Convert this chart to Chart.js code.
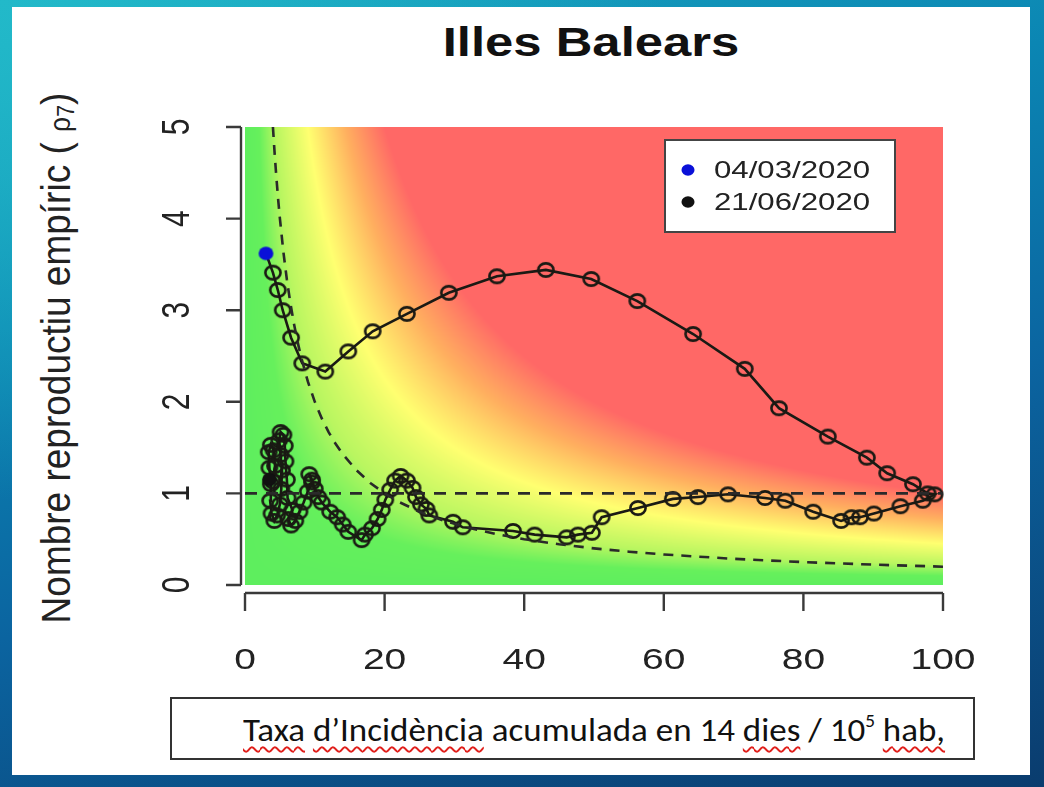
<!DOCTYPE html>
<html lang="ca">
<head>
<meta charset="utf-8">
<title>Illes Balears</title>
<script src="https://cdn.jsdelivr.net/npm/chart.js@4.4.1/dist/chart.umd.min.js"></script>
<style>
  html, body { margin: 0; padding: 0; }
  body {
    width: 1044px; height: 787px; overflow: hidden; position: relative;
    background:
      radial-gradient(ellipse at 0% 0%, #22b9c9 0%, rgba(34,185,201,0) 45%),
      linear-gradient(165deg, #1aa7c0 0%, #0b86b3 30%, #0b64a0 60%, #0a3c6e 100%);
    font-family: "Liberation Sans", Arial, sans-serif;
  }
  #panel { position: absolute; left: 12px; top: 7px; width: 1018px; height: 768px; background: #fff; }
  #title {
    position: absolute; left: 341px; top: 22px; width: 500px; text-align: center;
    font-size: 40px; line-height: 40px; font-weight: bold; color: #111;
    transform: scaleX(1.27);
  }
  #ytitle {
    position: absolute; left: -243px; top: 339px; width: 600px; height: 38px;
    line-height: 38px; text-align: center; font-size: 37px; color: #222; white-space: nowrap;
    transform: scaleX(1.12) rotate(-90deg);
  }
  #ytitle .sm { font-size: 0.72em; }
  #ytitle sub { font-size: 0.8em; vertical-align: -0.15em; }
  #chart { position: absolute; left: 0; top: 0; }
  #xbox {
    position: absolute; left: 170px; top: 697px; width: 805px; height: 63px;
    box-sizing: border-box; border: 2px solid #333; background: #fff;
  }
  #xtitle {
    position: absolute; left: 71px; top: 12px; white-space: nowrap;
    font-family: Carlito, Calibri, Lato, sans-serif; font-size: 33px; line-height: 38px; color: #111;
    transform-origin: 0 50%;
  }
  #xtitle .sp {
    text-decoration: underline wavy #e0201c; text-decoration-thickness: 1.5px;
    text-underline-offset: 5px; text-decoration-skip-ink: none;
  }
  #xtitle sup { font-size: 0.55em; vertical-align: 0.75em; line-height: 0; }
</style>
</head>
<body>
<div id="panel"></div>
<div id="title">Illes Balears</div>
<div id="ytitle">Nombre reproductiu empíric ( <span class="sm">ρ<sub>7</sub></span>)</div>
<canvas id="chart" width="1044" height="787"></canvas>
<div id="xbox"><div id="xtitle"><span class="sp">Taxa</span> <span class="sp">d’Incidència</span> acumulada en 14 <span class="sp">dies</span> / 10<sup>5</sup> <span class="sp">hab,</span></div></div>

<script>
// ===== Data =====
// incidence over 14 days per 10^5 inhabitants (x) and empirical reproduction number rho7 (y), 04/03 -> 21/06
const incidence = [
  3.0, 4.0, 4.7, 5.4, 6.6, 8.2, 11.5, 14.8, 18.3, 23.2,
  29.2, 36.1, 43.1, 49.6, 56.2, 64.2, 71.6, 76.5, 83.5, 89.1,
  92.0, 95.7, 97.8, 98.8, 97.1, 93.9, 90.1, 88.1, 86.9, 85.4,
  81.4, 77.4, 74.5, 69.2, 64.9, 61.3, 56.3, 51.1, 49.7, 47.7,
  46.1, 41.5, 38.4, 31.2, 29.8, 26.4, 26.0, 25.2, 24.5, 24.0,
  23.2, 22.3, 21.5, 20.8, 20.1, 19.6, 19.0, 18.2, 17.2, 16.7,
  14.8, 14.0, 13.2, 12.2, 11.0, 10.5, 10.0, 9.6, 9.2, 9.6,
  9.0, 8.4, 7.8, 7.2, 6.6, 6.2, 6.8, 6.1, 6.0, 5.8,
  5.7, 5.5, 5.1, 4.9, 5.1, 5.3, 5.2, 5.0, 4.6, 4.2,
  3.8, 3.6, 3.7, 3.5, 3.4, 3.7, 4.1, 4.3, 4.0, 3.5
];
const rho7 = [
  3.62, 3.41, 3.22, 3.00, 2.70, 2.42, 2.33, 2.55, 2.77, 2.96,
  3.19, 3.37, 3.44, 3.34, 3.10, 2.74, 2.36, 1.93, 1.62, 1.39,
  1.22, 1.10, 1.00, 0.99, 0.92, 0.86, 0.78, 0.74, 0.74, 0.70,
  0.80, 0.92, 0.95, 0.99, 0.96, 0.94, 0.84, 0.74, 0.57, 0.55,
  0.52, 0.55, 0.59, 0.63, 0.69, 0.76, 0.83, 0.88, 0.96, 1.06,
  1.14, 1.19, 1.14, 1.04, 0.93, 0.82, 0.72, 0.62, 0.55, 0.49,
  0.58, 0.66, 0.74, 0.80, 0.90, 0.96, 1.05, 1.15, 1.21, 1.12,
  1.02, 0.90, 0.80, 0.70, 0.65, 0.72, 0.82, 0.95, 1.15, 1.35,
  1.52, 1.64, 1.67, 1.58, 1.42, 1.25, 1.05, 0.88, 0.76, 0.70,
  0.78, 0.92, 1.10, 1.28, 1.45, 1.53, 1.47, 1.30, 1.13, 1.15
];

// reference lines: rho = 1 and the iso-risk curve incidence * rho = 20
const unitLineX = [0, 100];
const unitLineY = 1;
const isoRisk = 20;
const isoCurveX = [4, 4.25, 4.5, 4.75, 5, 5.5, 6, 6.5, 7, 7.5, 8, 9, 10, 11, 12, 13, 14, 16, 18, 20,
  22, 25, 28, 32, 36, 40, 45, 50, 55, 60, 70, 80, 90, 100];

const xTicks = [0, 20, 40, 60, 80, 100];
const yTicks = [0, 1, 2, 3, 4, 5];
const legendLabels = ['04/03/2020', '21/06/2020'];
const legendColors = ['#0a10d8', '#111111'];

// risk (incidence * rho) -> background colour
const riskStops = [0, 10, 22, 45, 72, 100];
const riskColors = [
  [94, 238, 94], [102, 240, 92], [185, 246, 96],
  [255, 255, 112], [255, 175, 95], [255, 104, 102]
];

(function() {
  'use strict';

  const STRETCH = 1.3;   // the source picture is widened horizontally
  const INK = '#222';

  // ===== helpers =====
  function riskColor(r) {
    if (r <= riskStops[0]) return riskColors[0];
    for (let i = 1; i < riskStops.length; i++) {
      if (r <= riskStops[i]) {
        const t = (r - riskStops[i - 1]) / (riskStops[i] - riskStops[i - 1]);
        const a = riskColors[i - 1], b = riskColors[i];
        return [a[0] + (b[0] - a[0]) * t, a[1] + (b[1] - a[1]) * t, a[2] + (b[2] - a[2]) * t];
      }
    }
    return riskColors[riskColors.length - 1];
  }

  function makeMarker(fill, stroke, rx, ry, lw) {
    const c = document.createElement('canvas');
    c.width = Math.ceil(rx * 2 + lw + 2);
    c.height = Math.ceil(ry * 2 + lw + 2);
    const g = c.getContext('2d');
    g.beginPath();
    g.ellipse(c.width / 2, c.height / 2, rx, ry, 0, 0, Math.PI * 2);
    if (fill) { g.fillStyle = fill; g.fill(); }
    if (stroke) { g.lineWidth = lw; g.strokeStyle = stroke; g.stroke(); }
    return c;
  }

  const openMarker = makeMarker(null, '#1a1a14', 7.6, 6.6, 2.6);
  const startMarker = makeMarker(legendColors[0], null, 7.4, 6.8, 0);
  const endMarker = makeMarker(legendColors[1], null, 7.4, 6.8, 0);

  // ===== plugins =====
  const riskBackground = {
    id: 'riskBackground',
    beforeDatasetsDraw(chart) {
      const { ctx, chartArea: a, scales: { x, y } } = chart;
      const left = Math.round(a.left), top = Math.round(a.top);
      const w = Math.round(a.right) - left, h = Math.round(a.bottom) - top;
      const img = ctx.createImageData(w, h);
      for (let j = 0; j < h; j++) {
        const vy = y.getValueForPixel(top + j + 0.5);
        for (let i = 0; i < w; i++) {
          const vx = x.getValueForPixel(left + i + 0.5);
          const c = riskColor(Math.max(0, vx * vy));
          const k = (j * w + i) * 4;
          img.data[k] = c[0];
          img.data[k + 1] = c[1];
          img.data[k + 2] = c[2];
          img.data[k + 3] = 255;
        }
      }
      ctx.putImageData(img, left, top);
    }
  };

  const rAxes = {
    id: 'rAxes',
    afterDraw(chart) {
      const { ctx, chartArea: a, scales: { x, y } } = chart;
      ctx.save();
      ctx.strokeStyle = '#3a3a3a';
      ctx.lineWidth = 2.4;
      ctx.fillStyle = INK;

      // y axis
      const ax = a.left - 4;
      ctx.beginPath();
      ctx.moveTo(ax, y.getPixelForValue(yTicks[0]));
      ctx.lineTo(ax, y.getPixelForValue(yTicks[yTicks.length - 1]));
      yTicks.forEach(v => {
        const py = y.getPixelForValue(v);
        ctx.moveTo(ax, py);
        ctx.lineTo(ax - 15, py);
      });
      ctx.stroke();
      ctx.font = '30px "Liberation Sans", Arial, sans-serif';
      ctx.textAlign = 'center';
      ctx.textBaseline = 'middle';
      yTicks.forEach(v => {
        ctx.save();
        ctx.translate(177, y.getPixelForValue(v));
        ctx.scale(STRETCH, 1);
        ctx.rotate(-Math.PI / 2);
        ctx.fillText(String(v), 0, 1);
        ctx.restore();
      });

      // x axis
      const ay = a.bottom + 8;
      ctx.beginPath();
      ctx.moveTo(x.getPixelForValue(xTicks[0]), ay);
      ctx.lineTo(x.getPixelForValue(xTicks[xTicks.length - 1]), ay);
      xTicks.forEach(v => {
        const px = x.getPixelForValue(v);
        ctx.moveTo(px, ay);
        ctx.lineTo(px, ay + 18);
      });
      ctx.stroke();
      xTicks.forEach(v => {
        ctx.save();
        ctx.translate(x.getPixelForValue(v), 661);
        ctx.scale(STRETCH, 1);
        ctx.fillText(String(v), 0, 0);
        ctx.restore();
      });
      ctx.restore();
    }
  };

  const boxLegend = {
    id: 'boxLegend',
    afterDraw(chart) {
      const ctx = chart.ctx;
      ctx.save();
      ctx.fillStyle = '#fff';
      ctx.fillRect(665, 140, 230, 92);
      ctx.strokeStyle = '#444';
      ctx.lineWidth = 2;
      ctx.strokeRect(665, 140, 230, 92);
      ctx.font = '24px "Liberation Sans", Arial, sans-serif';
      ctx.textBaseline = 'middle';
      legendLabels.forEach((label, i) => {
        const cy = 170 + i * 32;
        ctx.fillStyle = legendColors[i];
        ctx.beginPath();
        ctx.ellipse(688, cy, 6.5, 5.8, 0, 0, Math.PI * 2);
        ctx.fill();
        ctx.save();
        ctx.translate(714, cy + 1);
        ctx.scale(STRETCH, 1);
        ctx.fillStyle = INK;
        ctx.fillText(label, 0, 0);
        ctx.restore();
      });
      ctx.restore();
    }
  };

  // ===== datasets =====
  const track = incidence.map((v, i) => ({ x: v, y: rho7[i] }));
  const unitLine = unitLineX.map(v => ({ x: v, y: unitLineY }));
  const isoCurve = isoCurveX.map(v => ({ x: v, y: isoRisk / v }));
  const last = track.length - 1;

  new Chart(document.getElementById('chart'), {
    type: 'scatter',
    data: {
      datasets: [
        {
          data: isoCurve, showLine: true, pointRadius: 0,
          borderColor: '#2a2a2a', borderWidth: 2.6, borderDash: [10, 8], tension: 0
        },
        {
          data: unitLine, showLine: true, pointRadius: 0,
          borderColor: '#2a2a2a', borderWidth: 2.6, borderDash: [12, 9]
        },
        {
          data: track, showLine: true, clip: false,
          borderColor: '#1a1a14', borderWidth: 2.6, tension: 0,
          pointRadius: 7,
          pointStyle: ctx => ctx.dataIndex === 0 ? startMarker : (ctx.dataIndex === last ? endMarker : openMarker)
        }
      ]
    },
    options: {
      responsive: false,
      animation: false,
      events: [],
      layout: { padding: { left: 245, right: 101, top: 127, bottom: 202 } },
      plugins: { legend: { display: false }, tooltip: { enabled: false }, title: { display: false } },
      scales: {
        x: { type: 'linear', min: 0, max: 100, display: false },
        y: { type: 'linear', min: 0, max: 5, display: false }
      }
    },
    plugins: [riskBackground, rAxes, boxLegend]
  });

  // fit the x title to the width it has in the source
  const xt = document.getElementById('xtitle');
  const w = xt.getBoundingClientRect().width;
  xt.style.transform = 'scaleX(' + (702 / w).toFixed(3) + ')';
})();
</script>
</body>
</html>
